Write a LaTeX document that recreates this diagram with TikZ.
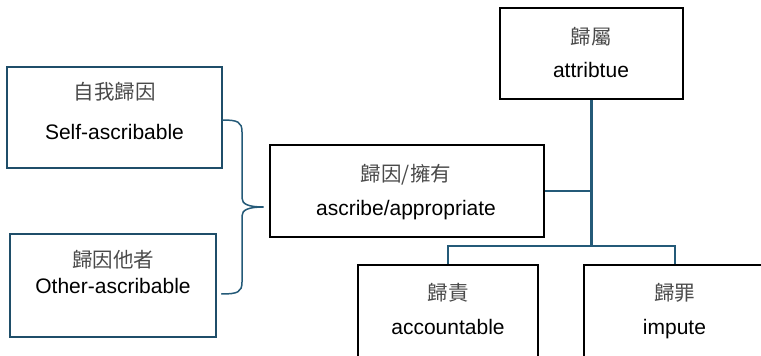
\documentclass[tikz,border=0pt]{standalone}
\usepackage{fontspec}
\setmainfont{Liberation Sans}
\newfontfamily\cjk{Noto Sans CJK TC}
\definecolor{tealline}{HTML}{245A78}
\definecolor{tealbox}{HTML}{1F4E69}
\definecolor{cjkgray}{HTML}{4A4A4A}
\begin{document}
\begin{tikzpicture}[x=1pt,y=-1pt,
  tbox/.style={draw=tealbox, line width=2.5pt, rectangle, inner sep=0pt},
  bbox/.style={draw=black, line width=2.7pt, rectangle, inner sep=0pt},
  entxt/.style={font=\fontsize{21}{24}\selectfont, text=black, anchor=base, inner sep=0pt},
  zhtxt/.style={font=\cjk\fontsize{20.5}{24}\selectfont, text=cjkgray, anchor=base, inner sep=0pt},
  conn/.style={draw=tealline, line width=2.8pt},
  thinconn/.style={draw=tealline, line width=2.2pt},
  bracestyle/.style={draw=tealline, line width=1.5pt}]
\useasboundingbox (0,0) rectangle (761,356);
\fill[white] (0,0) rectangle (761,356);
% boxes
\node[tbox, minimum width=215pt, minimum height=101pt] (selfbox) at (114.5,117.5) {};
\node[tbox, minimum width=206pt, minimum height=103pt] (otherbox) at (113,285.5) {};
\node[bbox, minimum width=274pt, minimum height=92pt] (ascbox) at (407,191) {};
\node[bbox, minimum width=183pt, minimum height=91pt] (attbox) at (591.5,53.5) {};
\node[bbox, minimum width=180pt, minimum height=94pt] (accbox) at (448,312) {};
\node[bbox, minimum width=182pt, minimum height=94pt] (impbox) at (675,312) {};
% texts
\node[zhtxt] (t1a) at (114.5,99) {自我歸因};
\node[entxt] (t1b) at (114.5,139) {Self-ascribable};
\node[zhtxt] (t2a) at (113,267) {歸因他者};
\node[entxt] (t2b) at (113,293) {Other-ascribable};
\node[zhtxt] (t3a) at (406,181) {歸因/擁有};
\node[entxt] (t3b) at (406,215) {ascribe/appropriate};
\node[zhtxt] (t4a) at (591,44) {歸屬};
\node[entxt] (t4b) at (591,77) {attribtue};
\node[zhtxt] (t5a) at (448,300) {歸責};
\node[entxt] (t5b) at (448,334) {accountable};
\node[zhtxt] (t6a) at (674.5,300) {歸罪};
\node[entxt] (t6b) at (674.5,334) {impute};
% connectors
\coordinate (j) at (591.5,246);
\coordinate (k) at (ascbox.east -| attbox.south);
\draw[conn] (attbox.south) -- (k);
\draw[thinconn] (k) -- (j);
\draw[thinconn] (ascbox.east) -- (k);
\draw[thinconn] (accbox.north) |- (j) -| (impbox.north);
% brace
\coordinate (bt) at ([xshift=-1pt,yshift=-2.5pt]selfbox.east);
\coordinate (bb) at ([xshift=4pt,yshift=-8.5pt]otherbox.east);
\coordinate (tip) at ([xshift=-5pt,yshift=-16pt]ascbox.west);
\draw[bracestyle] (bt) .. controls (238,120) and (242,122) .. (242,132) -- (242,198)
  .. controls (242,204) and (248,207) .. (tip)
  .. controls (248,207) and (242,210) .. (242,216) -- (242,282)
  .. controls (242,292) and (238,294) .. (bb);
\end{tikzpicture}
\end{document}
